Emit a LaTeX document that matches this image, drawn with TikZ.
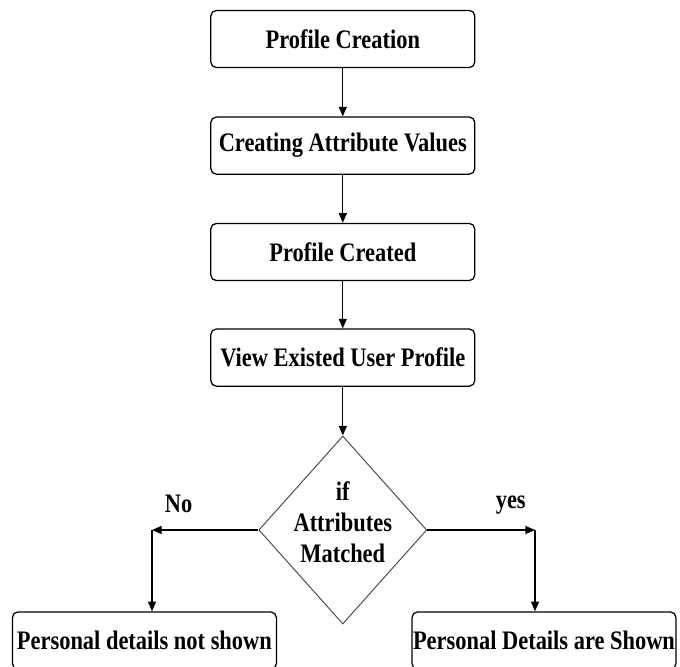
\documentclass[tikz,border=0pt]{standalone}
\usepackage{fontspec}
\setmainfont{Liberation Serif}[FakeStretch=0.84]
\usetikzlibrary{arrows.meta, shapes.geometric}

\begin{document}
\begin{tikzpicture}[>={Triangle[length=2.4mm, width=2mm]}, font=\fontsize{19}{22}\selectfont\bfseries]
    % Define styles for boxes, decision and links
    \tikzstyle{stage}=[rectangle, draw, rounded corners=4pt, line width=0.9pt, minimum width=6.6cm, minimum height=1.43cm, inner sep=0pt]
    \tikzstyle{decision}=[diamond, draw=black!70, line width=0.7pt, minimum width=4.2cm, minimum height=4.7cm, inner sep=0pt]
    \tikzstyle{link}=[->, line width=0.9pt]

    \useasboundingbox (0,0) rectangle (17,16.65);

    % Main column
    \node[stage] (B-1) at (8.57,15.675) {Profile Creation};
    \node[stage] (B-2) at (8.57,13.01) {Creating Attribute Values};
    \node[stage] (B-3) at (8.57,10.35) {Profile Created};
    \node[stage] (B-4) at (8.57,7.71) {View Existed User Profile};

    % Decision
    \node[decision, label={[align=center, yshift=0.2cm]center:{if\\Attributes\\Matched}}] (D) at (8.57,3.4) {};

    % Outcomes
    \node[stage] (L) at (3.61,0.6375) {Personal details not shown};
    \node[stage] (R) at (13.6,0.6375) {Personal Details are Shown};
    \coordinate (C-L) at (3.8,3.4);
    \coordinate (C-R) at (13.375,3.4);

    % Connections: main column
    \foreach \i/\j in {1/2, 2/3, 3/4} {
        \draw[link] (B-\i) -- (B-\j);
    }
    \draw[link] (B-4) -- (D);

    % Connections: decision to outcomes
    \draw[link] (D.west) -- (C-L) node[pos=0.75, above=0.3cm] {No};
    \draw[link] (C-L) -- (C-L |- L.north);
    \draw[link] (D.east) -- (C-R) node[pos=0.775, above=0.25cm] {yes};
    \draw[link] (C-R) -- (C-R |- R.north);

\end{tikzpicture}
\end{document}
